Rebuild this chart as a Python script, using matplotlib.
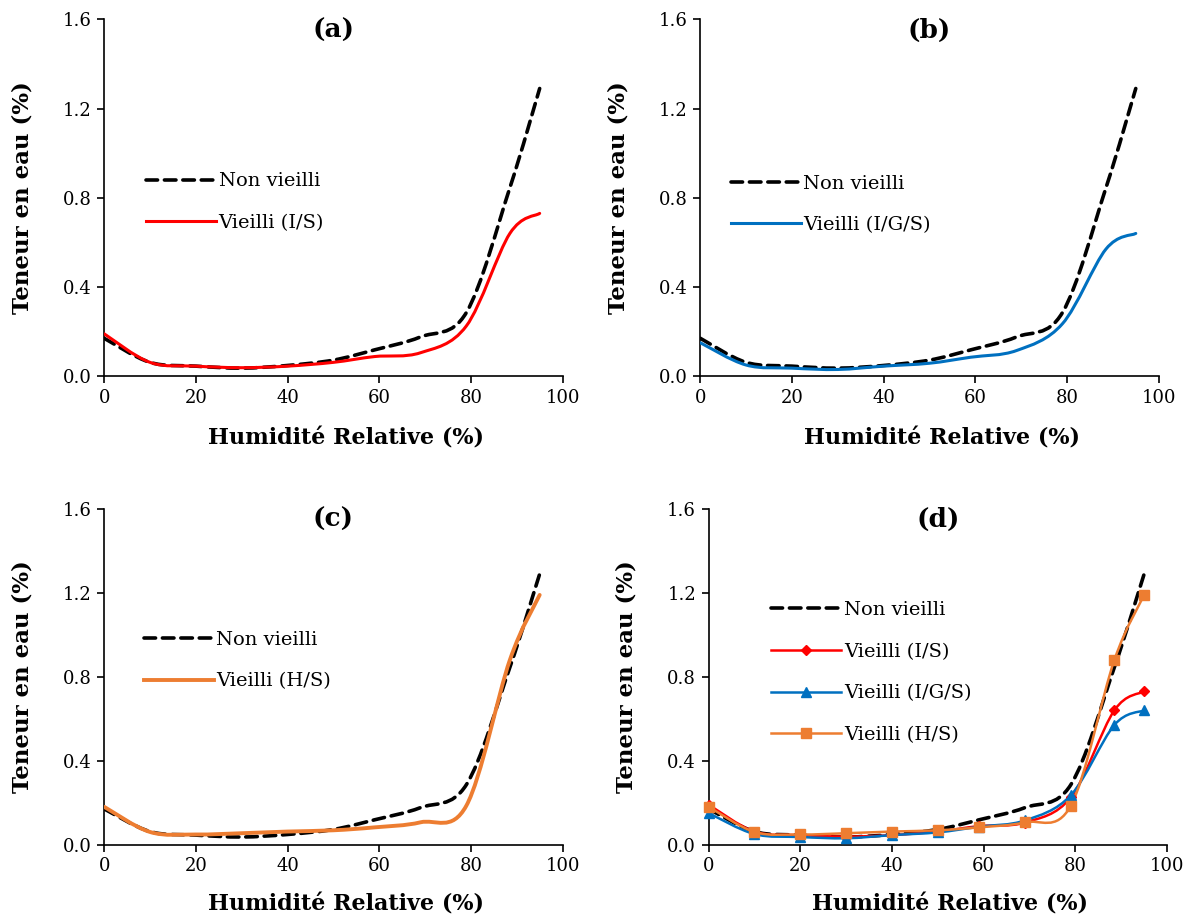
import matplotlib
matplotlib.use("Agg")
import matplotlib.pyplot as plt
import numpy as np
from matplotlib.path import Path
from matplotlib.patches import PathPatch
from matplotlib.lines import Line2D
from matplotlib.ticker import FormatStrFormatter

# Humidité relative (%)
rh = [0, 10, 20, 30, 40, 50, 59, 69, 79, 88.5, 95]

# Teneur en eau (%)
non_vieilli = [0.17, 0.062, 0.045, 0.036, 0.048, 0.072, 0.118, 0.176, 0.285, 0.845, 1.29]
vieilli_is = [0.19, 0.062, 0.045, 0.038, 0.045, 0.062, 0.088, 0.105, 0.225, 0.64, 0.73]
vieilli_igs = [0.15, 0.05, 0.036, 0.03, 0.045, 0.058, 0.085, 0.115, 0.235, 0.57, 0.64]
vieilli_hs = [0.18, 0.06, 0.048, 0.054, 0.062, 0.068, 0.082, 0.106, 0.185, 0.88, 1.19]

titles = ["(a)", "(b)", "(c)", "(d)"]
xticks = [0, 20, 40, 60, 80, 100]
yticks = [0.0, 0.4, 0.8, 1.2, 1.6]

plt.rcParams['font.family'] = ['DejaVu Serif']

BLACK = "#000000"
RED = "#FF0000"
BLUE = "#0070C0"
ORANGE = "#ED7D31"
DASH = (0, (3.2, 1.9))


def smooth_path(x, y):
    # courbe lissée type Excel (Catmull-Rom -> Bézier)
    p = np.column_stack([x, y]).astype(float)
    n = len(p)
    verts = [p[0]]
    codes = [Path.MOVETO]
    for i in range(n - 1):
        p0 = p[i - 1] if i > 0 else p[i]
        p3 = p[i + 2] if i + 2 < n else p[i + 1]
        c1 = p[i] + (p[i + 1] - p0) / 6
        c2 = p[i + 1] - (p3 - p[i]) / 6
        verts += [c1, c2, p[i + 1]]
        codes += [Path.CURVE4] * 3
    return Path(verts, codes)


def draw_curve(ax, y, color, lw, ls="-"):
    patch = PathPatch(smooth_path(rh, y), fill=False, edgecolor=color,
                      linewidth=lw, linestyle=ls, capstyle="round",
                      joinstyle="round", zorder=3)
    ax.add_patch(patch)


def setup_axis(ax, title):
    ax.set_xlim(0, 100)
    ax.set_ylim(0, 1.6)
    ax.set_xticks(xticks)
    ax.set_yticks(yticks)
    ax.yaxis.set_major_formatter(FormatStrFormatter('%.1f'))
    for s in ["top", "right"]:
        ax.spines[s].set_visible(False)
    for s in ["left", "bottom"]:
        ax.spines[s].set_linewidth(1.2)
    ax.tick_params(direction="out", length=5, width=1.2, labelsize=13, pad=4)
    ax.set_xlabel("Humidité Relative (%)", fontsize=16, fontweight="bold")
    ax.set_ylabel("Teneur en eau (%)", fontsize=16.5, fontweight="bold")
    ax.xaxis.set_label_coords(0.527, -0.145)
    ax.yaxis.set_label_coords(-0.155, 0.5)
    ax.text(0.5, 1.005, title, transform=ax.transAxes, ha="center", va="top",
            fontsize=19, fontweight="bold")


fig = plt.figure(figsize=(11.97, 9.22), dpi=100)
ax_a = fig.add_axes([0.087, 0.592, 0.383, 0.387])
ax_b = fig.add_axes([0.585, 0.592, 0.383, 0.387])
ax_c = fig.add_axes([0.087, 0.084, 0.383, 0.364])
ax_d = fig.add_axes([0.592, 0.084, 0.383, 0.364])

dash_handle = Line2D([], [], color=BLACK, lw=2.6, linestyle=DASH,
                     dash_capstyle="round")

leg_kw = dict(frameon=False, fontsize=14, handlelength=3.6, handletextpad=0.12,
              labelspacing=1.22, borderaxespad=0)

# (a)
draw_curve(ax_a, non_vieilli, BLACK, 2.6, DASH)
draw_curve(ax_a, vieilli_is, RED, 2.2)
setup_axis(ax_a, titles[0])
ax_a.legend([dash_handle, Line2D([], [], color=RED, lw=2.2)],
            ["Non vieilli", "Vieilli (I/S)"], loc="upper left",
            bbox_to_anchor=(0.075, 0.593), **leg_kw)

# (b)
draw_curve(ax_b, non_vieilli, BLACK, 2.6, DASH)
draw_curve(ax_b, vieilli_igs, BLUE, 2.2)
setup_axis(ax_b, titles[1])
ax_b.legend([dash_handle, Line2D([], [], color=BLUE, lw=2.2)],
            ["Non vieilli", "Vieilli (I/G/S)"], loc="upper left",
            bbox_to_anchor=(0.05, 0.587), **leg_kw)

# (c)
draw_curve(ax_c, non_vieilli, BLACK, 2.6, DASH)
draw_curve(ax_c, vieilli_hs, ORANGE, 2.8)
setup_axis(ax_c, titles[2])
ax_c.legend([dash_handle, Line2D([], [], color=ORANGE, lw=2.8)],
            ["Non vieilli", "Vieilli (H/S)"], loc="upper left",
            bbox_to_anchor=(0.07, 0.66), **leg_kw)

# (d)
draw_curve(ax_d, non_vieilli, BLACK, 2.6, DASH)
draw_curve(ax_d, vieilli_is, RED, 1.8)
draw_curve(ax_d, vieilli_igs, BLUE, 1.8)
draw_curve(ax_d, vieilli_hs, ORANGE, 1.8)
ax_d.plot(rh, vieilli_is, ls="none", marker="D", ms=5.5, color=RED, zorder=4, clip_on=False)
ax_d.plot(rh, vieilli_igs, ls="none", marker="^", ms=7, color=BLUE, zorder=4, clip_on=False)
ax_d.plot(rh, vieilli_hs, ls="none", marker="s", ms=6.5, color=ORANGE, zorder=5, clip_on=False)
setup_axis(ax_d, titles[3])
handles_d = [
    dash_handle,
    Line2D([], [], color=RED, lw=1.8, marker="D", ms=5.5),
    Line2D([], [], color=BLUE, lw=1.8, marker="^", ms=7),
    Line2D([], [], color=ORANGE, lw=1.8, marker="s", ms=6.5),
]
ax_d.legend(handles_d, ["Non vieilli", "Vieilli (I/S)", "Vieilli (I/G/S)", "Vieilli (H/S)"],
            loc="upper left", bbox_to_anchor=(0.12, 0.749), **leg_kw)

fig.savefig("out.png", dpi=100)
